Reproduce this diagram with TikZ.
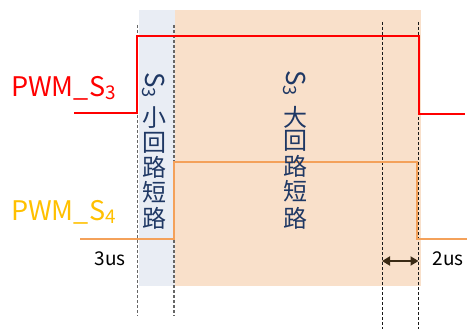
\documentclass[tikz,border=0pt]{standalone}
\usepackage{fontspec}
\setmainfont{Noto Sans CJK SC}
\usetikzlibrary{arrows.meta}
\definecolor{bandblue}{HTML}{E9EDF4}
\definecolor{bandorange}{HTML}{F9E0CA}
\definecolor{sigred}{HTML}{FF0000}
\definecolor{sigorange}{HTML}{F4A15A}
\definecolor{gold}{HTML}{FFC000}
\definecolor{navy}{HTML}{1F3864}
\definecolor{darkbrown}{HTML}{3A2A14}
\tikzset{
  sig/.style={line width=2pt, line join=miter},
  guidegray/.style={draw=black!60, line width=1.1pt, dash pattern=on 3pt off 2pt},
  guidedark/.style={draw=black!90, line width=0.9pt, dash pattern=on 3pt off 2pt},
  vchar/.style={text=navy, font=\fontsize{24}{24}\selectfont, inner sep=0pt},
  vsub/.style={text=navy, font=\fontsize{26}{26}\selectfont, inner sep=0pt},
  siglabel/.style={font=\fontsize{27}{27}\selectfont, inner sep=0pt, anchor=west},
  timelabel/.style={font=\fontsize{19}{19}\selectfont, inner sep=0pt},
}
\newcommand{\lowsub}[1]{\raisebox{-0.12em}{\fontsize{0.7em}{0.7em}\selectfont #1}}
\begin{document}
\begin{tikzpicture}[x=1pt,y=-1pt]
\useasboundingbox (0,0) rectangle (471,329);
% bands
\fill[bandblue] (139,10) rectangle (175,286);
\fill[bandorange] (175,10) rectangle (421,286);
% guide lines
\coordinate (g1t) at (137.5,25); \coordinate (g1b) at (137.5,316);
\coordinate (g2t) at (174,25); \coordinate (g2b) at (174,316);
\coordinate (g3t) at (382,22); \coordinate (g3b) at (382,329);
\coordinate (g4t) at (418.5,22); \coordinate (g4b) at (418.5,329);
\draw[guidegray] (g1t) -- (g1b);
\draw[guidegray] (g2t) -- (g2b);
\draw[guidedark] (g3t) -- (g3b);
\draw[guidedark] (g4t) -- (g4b);
% waveforms
\draw[sig, sigred] (74,113) -- (137,113) -- (137,36) -- (419,36) -- (419,114) -- (465,114);
\draw[sig, sigorange] (80,239) -- (174,239) -- (174,162) -- (417,162) -- (417,239) -- (467,239);
% labels
\node[siglabel, text=sigred] (l3) at (11,88) {PWM\_S\lowsub{3}};
\node[siglabel, text=gold] (l4) at (11,212) {PWM\_S\lowsub{4}};
\node[timelabel] (t3) at (110,259) {3us};
\node[timelabel] (t2) at (448,259) {2us};
% arrow
\coordinate (a1) at (382,261); \coordinate (a2) at (418.5,261);
\draw[darkbrown, line width=1.8pt, {Triangle[length=8pt,width=9pt]}-{Triangle[length=8pt,width=9pt]}] (a1) -- (a2);
% vertical texts
\node[vsub, rotate=-90] (s1) at (154,85) {S\lowsub{3}};
\node[vchar] (c11) at (154,118) {小};
\node[vchar] (c12) at (154,143) {回};
\node[vchar] (c13) at (154,167) {路};
\node[vchar] (c14) at (154,192) {短};
\node[vchar] (c15) at (154,218) {路};
\node[vsub, rotate=-90] (s2) at (295,83) {S\lowsub{3}};
\node[vchar] (c21) at (295,117) {大};
\node[vchar] (c22) at (295,141) {回};
\node[vchar] (c23) at (295,166) {路};
\node[vchar] (c24) at (295,191) {短};
\node[vchar] (c25) at (295,218) {路};
\end{tikzpicture}
\end{document}
